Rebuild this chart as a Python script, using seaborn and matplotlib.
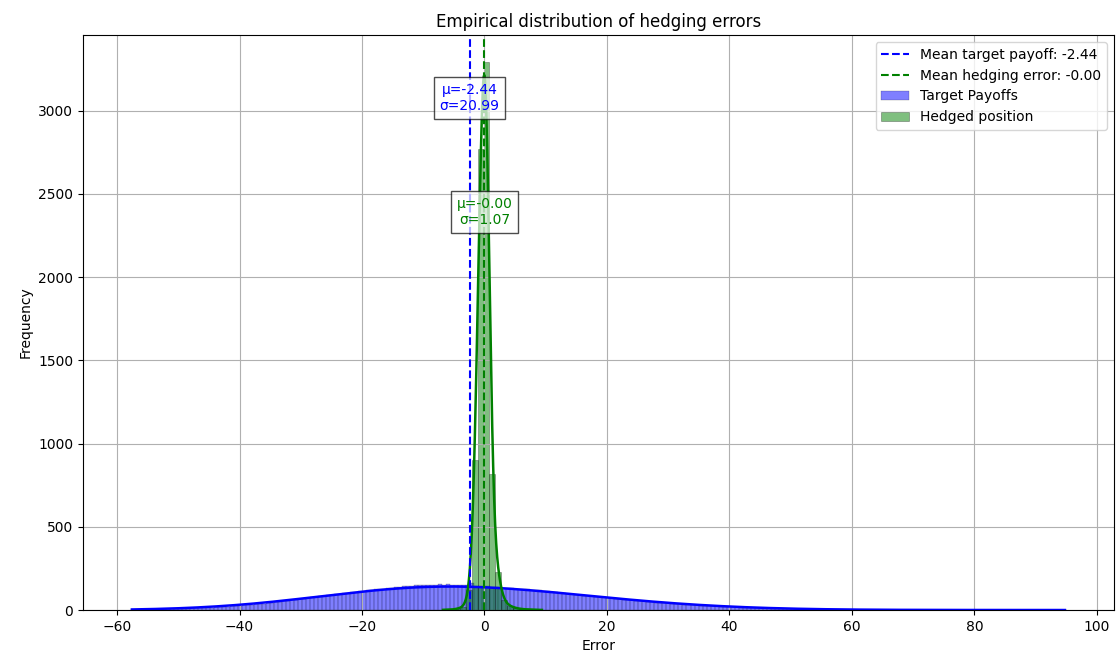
import numpy as np
import pandas as pd
import matplotlib
matplotlib.use("Agg")
import matplotlib.pyplot as plt
import seaborn as sns

# Binned payoff distribution: 234 equal bins spanning the observed range
TARGET_RANGE = (-57.9, 95.1)
target_counts = [
    1, 1, 2, 2, 3, 3, 4, 4, 5, 5, 6, 6, 7, 8, 9, 10, 10, 12, 12, 13,
    15, 16, 17, 19, 20, 22, 24, 26, 28, 30, 32, 34, 37, 39, 41, 44, 46, 49, 52, 56,
    58, 63, 66, 68, 73, 76, 78, 84, 86, 88, 93, 96, 97, 102, 103, 106, 110, 113, 114, 119,
    121, 126, 127, 129, 134, 135, 139, 138, 143, 146, 145, 148, 149, 152, 150, 153, 151, 155, 152, 154,
    150, 152, 151, 148, 149, 160, 145, 147, 143, 142, 141, 137, 139, 134, 135, 131, 129, 128, 124, 125,
    121, 119, 118, 115, 113, 110, 108, 104, 103, 98, 96, 93, 91, 87, 86, 82, 81, 77, 76, 73,
    71, 68, 66, 63, 62, 58, 57, 54, 52, 49, 48, 45, 43, 41, 40, 38, 36, 34, 33, 31,
    30, 28, 27, 25, 24, 23, 22, 21, 19, 18, 17, 16, 15, 14, 14, 13, 12, 11, 10, 10,
    9, 9, 8, 7, 7, 6, 6, 5, 5, 5, 4, 4, 4, 3, 3, 3, 3, 2, 2, 2,
    2, 2, 1, 2, 1, 1, 1, 1, 1, 1, 1, 1, 0, 1, 1, 0, 1, 0, 1, 0,
    0, 1, 0, 0, 1, 0, 0, 0, 1, 0, 0, 0, 0, 1, 0, 0, 0, 1, 0, 0,
    0, 0, 0, 0, 1, 0, 0, 0, 0, 0, 0, 0, 0, 1,
]

# Hedging errors tabulated on a fine grid (68 cells); the histogram groups
# them into 17 bars of four cells each
HEDGE_RANGE = (-6.9, 9.5)
HEDGE_BARS = 17
hedge_fine_counts = [
    1, 0, 0, 1,
    1, 1, 0, 1,
    1, 2, 2, 3,
    3, 4, 5, 8,
    12, 20, 33, 55,
    95, 163, 259, 383,
    512, 652, 768, 838,
    1000, 920, 780, 590,
    370, 230, 140, 80,
    85, 65, 45, 35,
    22, 16, 12, 10,
    8, 7, 5, 5,
    4, 3, 3, 2,
    2, 2, 1, 1,
    1, 1, 1, 1,
    1, 0, 1, 0,
    0, 0, 0, 1,
]

# Summary statistics shown on the chart
MEAN_TARGET, STD_TARGET = -2.44, 20.99
MEAN_HEDGE, STD_HEDGE = -0.001, 1.07


def bin_table(counts, lo, hi):
    edges = np.linspace(lo, hi, len(counts) + 1)
    centers = 0.5 * (edges[:-1] + edges[1:])
    return pd.DataFrame({"value": centers, "count": counts})


target_df = bin_table(target_counts, *TARGET_RANGE)
hedge_df = bin_table(hedge_fine_counts, *HEDGE_RANGE)

fig, ax = plt.subplots(figsize=(11.16, 6.62), dpi=100)
fig.subplots_adjust(left=0.0744, right=0.998, top=0.947, bottom=0.0785)

edge = (0, 0, 0, 0.45)
sns.histplot(data=target_df, x="value", weights="count",
             bins=len(target_counts), binrange=TARGET_RANGE,
             kde=True, line_kws={"linewidth": 1.8},
             color="blue", alpha=0.5, edgecolor=edge,
             label="Target Payoffs", ax=ax)
sns.histplot(data=hedge_df, x="value", weights="count",
             bins=HEDGE_BARS, binrange=HEDGE_RANGE,
             kde=True, kde_kws={"bw_adjust": 0.75}, line_kws={"linewidth": 1.8},
             color="green", alpha=0.5, edgecolor=edge,
             label="Hedged position", ax=ax)

ax.axvline(MEAN_TARGET, color="blue", linestyle="--", linewidth=1.5,
           label=f"Mean target payoff: {MEAN_TARGET:.2f}")
ax.axvline(MEAN_HEDGE, color="green", linestyle="--", linewidth=1.5,
           label=f"Mean hedging error: {MEAN_HEDGE:.2f}")

ax.text(MEAN_TARGET, 3077, f"μ={MEAN_TARGET:.2f}\nσ={STD_TARGET:.2f}",
        color="blue", ha="center", va="center", fontsize=10,
        bbox=dict(facecolor="white", alpha=0.7))
ax.text(MEAN_HEDGE, 2392, f"μ={MEAN_HEDGE:.2f}\nσ={STD_HEDGE:.2f}",
        color="green", ha="center", va="center", fontsize=10,
        bbox=dict(facecolor="white", alpha=0.7))

ax.set_title("Empirical distribution of hedging errors")
ax.set_xlabel("Error")
ax.set_ylabel("Frequency")
ax.grid(True)
ax.legend(loc="upper right")

fig.savefig("out.png", dpi=100)
